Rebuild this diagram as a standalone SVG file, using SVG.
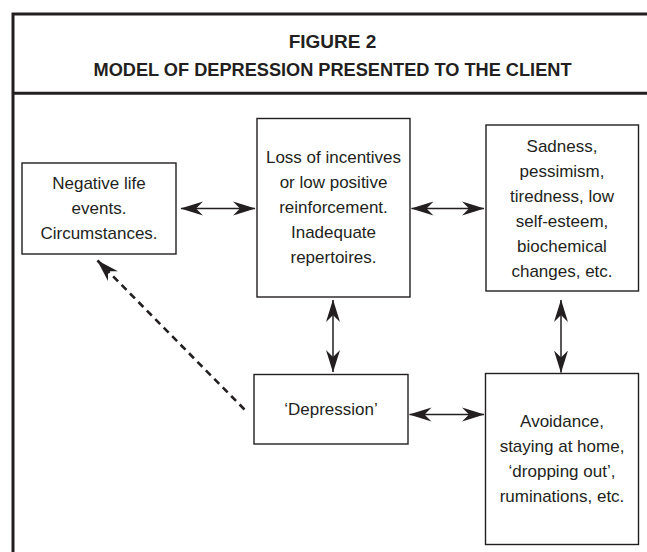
<svg xmlns="http://www.w3.org/2000/svg" width="647" height="552" viewBox="0 0 647 552">
<style>
.frame{fill:none;stroke:#231f20;stroke-width:3}
.box{fill:#fff;stroke:#231f20;stroke-width:1.4}
.t{font-family:"Liberation Sans",Arial,sans-serif;font-size:17px;fill:#231f20;text-anchor:middle}
.title{font-family:"Liberation Sans",Arial,sans-serif;font-size:19px;font-weight:bold;fill:#231f20;text-anchor:middle}
.arr{fill:none;stroke:#231f20;stroke-width:1.5;marker-end:url(#ah);marker-start:url(#ah)}
.dash{fill:none;stroke:#231f20;stroke-width:2.6;stroke-dasharray:7 5;marker-end:url(#ah)}
</style>
<defs>
<marker id="ah" viewBox="-22 -8 23 16" refX="0" refY="0" markerWidth="23" markerHeight="16" markerUnits="userSpaceOnUse" orient="auto-start-reverse">
<path d="M0.5,0 L-22,-7 L-15,0 L-22,7 Z" fill="#231f20"/>
</marker>
</defs>
<rect width="647" height="552" fill="#fff"/>
<g id="frame">
<rect class="frame" x="13" y="14" width="660" height="600"/>
<line class="frame" x1="13" y1="93.3" x2="660" y2="93.3"/>
<text class="title" x="332.5" y="47.5">FIGURE 2</text>
<text class="title" x="332.5" y="75.8" textLength="478" lengthAdjust="spacingAndGlyphs">MODEL OF DEPRESSION PRESENTED TO THE CLIENT</text>
</g>
<g id="connectors">
<line class="arr" x1="181" y1="208.5" x2="255" y2="208.5"/>
<line class="arr" x1="411.5" y1="208.5" x2="484" y2="208.5"/>
<line class="arr" x1="333" y1="300" x2="333" y2="372"/>
<line class="arr" x1="561" y1="300" x2="561" y2="372.5"/>
<line class="arr" x1="409.5" y1="414.5" x2="484" y2="414.5"/>
<line class="dash" x1="244.5" y1="409.5" x2="97.5" y2="260.5"/>
</g>
<g id="negative">
<rect class="box" x="22" y="163" width="154" height="91"/>
<text class="t" x="99" y="188.5">Negative life</text>
<text class="t" x="99" y="213.5">events.</text>
<text class="t" x="99" y="238.5">Circumstances.</text>
</g>
<g id="loss">
<rect class="box" x="257" y="118.5" width="153" height="178.5"/>
<text class="t" x="333.5" y="163">Loss of incentives</text>
<text class="t" x="333.5" y="188">or low positive</text>
<text class="t" x="333.5" y="213">reinforcement.</text>
<text class="t" x="333.5" y="238">Inadequate</text>
<text class="t" x="333.5" y="263">repertoires.</text>
</g>
<g id="sadness">
<rect class="box" x="486" y="125" width="152.5" height="166"/>
<text class="t" x="562" y="152">Sadness,</text>
<text class="t" x="562" y="177">pessimism,</text>
<text class="t" x="562" y="202">tiredness, low</text>
<text class="t" x="562" y="227">self-esteem,</text>
<text class="t" x="562" y="252">biochemical</text>
<text class="t" x="562" y="277">changes, etc.</text>
</g>
<g id="depression">
<rect class="box" x="254" y="374.5" width="154" height="69.5"/>
<text class="t" x="331" y="415">‘Depression’</text>
</g>
<g id="avoidance">
<rect class="box" x="485.5" y="373.5" width="153" height="171"/>
<text class="t" x="562" y="427">Avoidance,</text>
<text class="t" x="562" y="452">staying at home,</text>
<text class="t" x="562" y="477">‘dropping out’,</text>
<text class="t" x="562" y="502">ruminations, etc.</text>
</g>
</svg>
